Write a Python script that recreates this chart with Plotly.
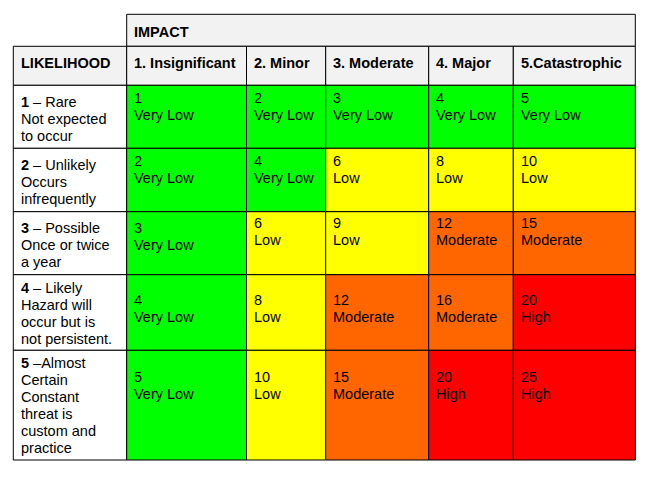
import plotly.graph_objects as go

# ---------------- data ----------------
impact_title = "IMPACT"
likelihood_title = "LIKELIHOOD"
impact_labels = ["1. Insignificant", "2. Minor", "3. Moderate", "4. Major", "5.Catastrophic"]
likelihood_labels = [
    ["<b>1</b> – Rare", "Not expected", "to occur"],
    ["<b>2</b> – Unlikely", "Occurs", "infrequently"],
    ["<b>3</b> – Possible", "Once or twice", "a year"],
    ["<b>4</b> – Likely", "Hazard will", "occur but is", "not persistent."],
    ["<b>5</b> –Almost", "Certain", "Constant", "threat is", "custom and", "practice"],
]
scores = [
    [1, 2, 3, 4, 5],
    [2, 4, 6, 8, 10],
    [3, 6, 9, 12, 15],
    [4, 8, 12, 16, 20],
    [5, 10, 15, 20, 25],
]
ratings = [
    ["Very Low", "Very Low", "Very Low", "Very Low", "Very Low"],
    ["Very Low", "Very Low", "Low", "Low", "Low"],
    ["Very Low", "Low", "Low", "Moderate", "Moderate"],
    ["Very Low", "Low", "Moderate", "Moderate", "High"],
    ["Very Low", "Low", "Moderate", "High", "High"],
]

# ---------------- styling / layout ----------------
rating_colors = {"Very Low": "#00FF00", "Low": "#FFFF00", "Moderate": "#FF6600", "High": "#FF0000"}
header_fill = "#F2F2F2"
font_family = "Liberation Sans, Arial, sans-serif"
fs = 14.5
W, H = 654, 477
page_offset = 8  # default body margin of the html page

col_edges = [13.3, 126.7, 246.5, 325.7, 428.7, 513.3, 635.3]
header_top, header_mid, header_bot = 14.3, 46.3, 85.3
row_edges = [85.3, 148.3, 211.7, 274.7, 350.3, 460.0]
line_h = 17.0
pad_x = 5.5
impact_title_offset = 18.0
header_row_offset = 16.8
left_first_offset = [16.4, 16.7, 16.0, 13.3, 12.7]
risk_first_offset = [[12.7] * 5, [12.7] * 5, [16.0, 11.6, 11.6, 11.6, 11.6], [25.3] * 5, [26.7] * 5]

fig = go.Figure()
shapes, annotations = [], []

def rect(x0, y0, x1, y1, fill):
    shapes.append(dict(type="rect", xref="x", yref="y", x0=x0, x1=x1, y0=y0, y1=y1,
                       fillcolor=fill, line=dict(color="black", width=1), layer="below"))

def text(x, y, s, bold=False):
    annotations.append(dict(x=x, y=y, xref="x", yref="y", text=f"<b>{s}</b>" if bold else s,
                            showarrow=False, xanchor="left", yanchor="middle",
                            font=dict(family=font_family, size=fs, color="black")))

# header rows
rect(col_edges[1], header_top, col_edges[-1], header_mid, header_fill)
text(col_edges[1] + pad_x, header_top + impact_title_offset, impact_title, bold=True)
rect(col_edges[0], header_mid, col_edges[1], header_bot, header_fill)
text(col_edges[0] + pad_x, header_mid + header_row_offset, likelihood_title, bold=True)
for j, lab in enumerate(impact_labels):
    rect(col_edges[j + 1], header_mid, col_edges[j + 2], header_bot, header_fill)
    text(col_edges[j + 1] + pad_x, header_mid + header_row_offset, lab, bold=True)

# body rows
for i in range(5):
    y0, y1 = row_edges[i], row_edges[i + 1]
    rect(col_edges[0], y0, col_edges[1], y1, "white")
    for k, line in enumerate(likelihood_labels[i]):
        text(col_edges[0] + pad_x, y0 + left_first_offset[i] + k * line_h, line)
    for j in range(5):
        rect(col_edges[j + 1], y0, col_edges[j + 2], y1, rating_colors[ratings[i][j]])
        ty = y0 + risk_first_offset[i][j]
        text(col_edges[j + 1] + pad_x, ty, str(scores[i][j]))
        text(col_edges[j + 1] + pad_x, ty + line_h, ratings[i][j])

fig.update_layout(
    width=W, height=H, margin=dict(l=0, r=0, t=0, b=0),
    paper_bgcolor="white", plot_bgcolor="white",
    xaxis=dict(range=[page_offset, W + page_offset], visible=False, fixedrange=True),
    yaxis=dict(range=[H + page_offset, page_offset], visible=False, fixedrange=True),
    shapes=shapes, annotations=annotations, showlegend=False,
)
fig.write_html("out.html")
